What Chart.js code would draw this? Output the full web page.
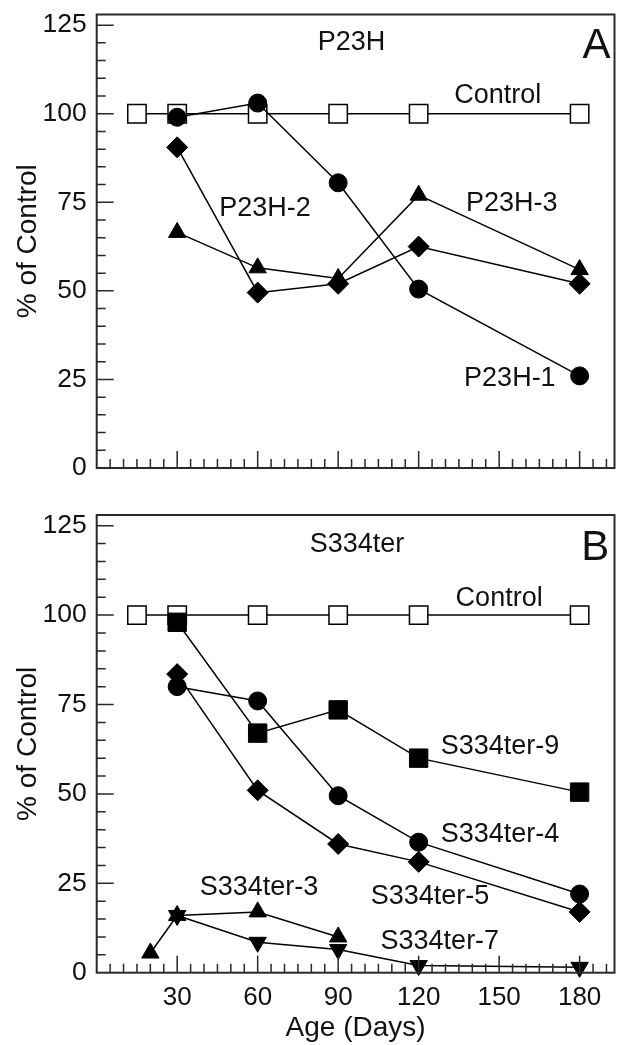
<!DOCTYPE html>
<html>
<head>
<meta charset="utf-8">
<script src="https://cdn.jsdelivr.net/npm/chart.js@4.4.1/dist/chart.umd.min.js"></script>
<style>
  body { margin: 0; background: #fff; }
  canvas { display: block; }
</style>
</head>
<body>
<canvas id="chartA" width="629" height="490"></canvas>
<canvas id="chartB" width="629" height="555"></canvas>
<script>
// Panel A: P23H lines
const controlAges = [15, 30, 60, 90, 120, 180];
const controlValues = [100, 100, 100, 100, 100, 100];
const agesA = [30, 60, 90, 120, 180];
const p23h1 = [99, 103, 80.5, 50.5, 26];
const p23h2 = [90.5, 49.5, 52, 62.5, 52];
const p23h3 = [66.5, 56.5, 53.5, 77, 56];

// Panel B: S334ter lines
const agesB = [30, 60, 90, 120, 180];
const s334ter9 = [98, 67, 73.5, 60, 50.5];
const s334ter4 = [80, 76, 49.5, 36.5, 22];
const s334ter5 = [83.5, 51, 36, 31, 17];
const agesS3 = [20, 30, 60, 90];
const s334ter3 = [5.5, 16, 17, 10];
const s334ter7 = [16, 8.5, 6.5, 2, 1.5];

// text placed inside the plots (data units)
const textA = [
    { text: 'P23H', x: 95, y: 120 },
    { text: 'A', x: 186.3, y: 119, size: 42 },
    { text: 'Control', x: 149.5, y: 105 },
    { text: 'P23H-2', x: 62.7, y: 73.3 },
    { text: 'P23H-3', x: 154.7, y: 74.7 },
    { text: 'P23H-1', x: 154, y: 25.2 }
];
const textB = [
    { text: 'S334ter', x: 97, y: 119.7 },
    { text: 'B', x: 185.8, y: 118.6, size: 42 },
    { text: 'Control', x: 150, y: 104.6 },
    { text: 'S334ter-9', x: 150.3, y: 63.3 },
    { text: 'S334ter-4', x: 150.3, y: 38.5 },
    { text: 'S334ter-5', x: 124.2, y: 21.2 },
    { text: 'S334ter-3', x: 60.5, y: 23.7 },
    { text: 'S334ter-7', x: 127.9, y: 8.6 }
];

const FONT = '"Liberation Sans", Arial, Helvetica, sans-serif';
const INK = '#111';

function series(xs, ys, style, extra) {
    return Object.assign({
        data: xs.map((x, i) => ({ x: x, y: ys[i] })),
        borderColor: '#000',
        borderWidth: 1.5,
        pointStyle: style,
        pointRadius: 9,
        pointBackgroundColor: '#000',
        pointBorderColor: '#000',
        pointBorderWidth: 1,
        tension: 0,
        clip: false
    }, extra || {});
}

function control() {
    return series(controlAges, controlValues, 'rect', {
        pointRadius: 13,
        pointBackgroundColor: '#fff',
        pointBorderWidth: 1.5
    });
}

// frame, inward ticks and the text labels
const frameTicks = {
    id: 'frameTicks',
    afterDraw(chart, args, opts) {
        const { ctx, chartArea: a, scales: { x, y } } = chart;
        ctx.save();
        ctx.strokeStyle = '#2a2a2a';
        ctx.lineWidth = 2;
        ctx.strokeRect(a.left, a.top, a.right - a.left, a.bottom - a.top);
        ctx.lineWidth = 1.5;
        ctx.beginPath();
        for (let v = 5; v < x.max; v += 5) {
            const px = x.getPixelForValue(v);
            const len = v % 30 === 0 ? 17 : 9;
            ctx.moveTo(px, a.bottom);
            ctx.lineTo(px, a.bottom - len);
        }
        for (let v = 5; v < y.max; v += 5) {
            const py = y.getPixelForValue(v);
            const len = v % 25 === 0 ? 17 : 9;
            ctx.moveTo(a.left, py);
            ctx.lineTo(a.left + len, py);
        }
        ctx.stroke();
        ctx.fillStyle = INK;
        ctx.textAlign = 'center';
        ctx.textBaseline = 'middle';
        opts.labels.forEach(l => {
            ctx.font = (l.size || 27) + 'px ' + FONT;
            ctx.fillText(l.text, x.getPixelForValue(l.x), y.getPixelForValue(l.y));
        });
        ctx.restore();
    }
};

function makeChart(id, datasets, labels, showX, padTop, xHeight) {
    return new Chart(document.getElementById(id), {
        type: 'line',
        data: { datasets: datasets },
        options: {
            responsive: false,
            animation: false,
            layout: { padding: { top: padTop, right: 7, left: 0, bottom: 0 } },
            plugins: {
                legend: { display: false },
                tooltip: { enabled: false },
                frameTicks: { labels: labels }
            },
            scales: {
                x: {
                    type: 'linear',
                    min: 0,
                    max: 193,
                    grid: { display: false, drawTicks: false },
                    border: { display: false },
                    ticks: {
                        display: showX,
                        stepSize: 30,
                        includeBounds: false,
                        autoSkip: false,
                        maxRotation: 0,
                        padding: 10,
                        color: INK,
                        font: { family: FONT, size: 26 },
                        callback: v => v === 0 ? '' : v
                    },
                    title: {
                        display: showX,
                        text: 'Age (Days)',
                        color: INK,
                        font: { family: FONT, size: 28 },
                        padding: { top: 0, bottom: 0 }
                    },
                    afterFit(scale) {
                        scale.height = xHeight;
                        scale.paddingLeft = 0;
                        scale.paddingRight = 0;
                    }
                },
                y: {
                    type: 'linear',
                    min: 0,
                    max: 128,
                    grid: { display: false, drawTicks: false },
                    border: { display: false },
                    ticks: {
                        stepSize: 25,
                        includeBounds: false,
                        padding: 10,
                        color: INK,
                        font: { family: FONT, size: 26.5 }
                    },
                    title: {
                        display: true,
                        text: '% of Control',
                        color: INK,
                        font: { family: FONT, size: 28 },
                        padding: { top: 11, bottom: 0 }
                    },
                    afterFit(scale) {
                        scale.width = 96.7;
                        scale.paddingTop = 0;
                        scale.paddingBottom = 0;
                    }
                }
            }
        },
        plugins: [frameTicks]
    });
}

makeChart('chartA', [
    series(agesA, p23h1, 'circle'),
    series(agesA, p23h2, 'rectRot', { pointRadius: 10.5 }),
    series(agesA, p23h3, 'triangle', { pointRadius: 10 }),
    control()
], textA, false, 10.7, 22);

makeChart('chartB', [
    series(agesB, s334ter9, 'rect', { pointRadius: 13 }),
    series(agesB, s334ter4, 'circle'),
    series(agesB, s334ter5, 'rectRot', { pointRadius: 10.5 }),
    series(agesS3, s334ter3, 'triangle', { pointRadius: 10 }),
    series(agesB, s334ter7, 'triangle', { pointRadius: 10, pointRotation: 180 }),
    control()
], textB, true, 25, 72.3);
</script>
</body>
</html>
